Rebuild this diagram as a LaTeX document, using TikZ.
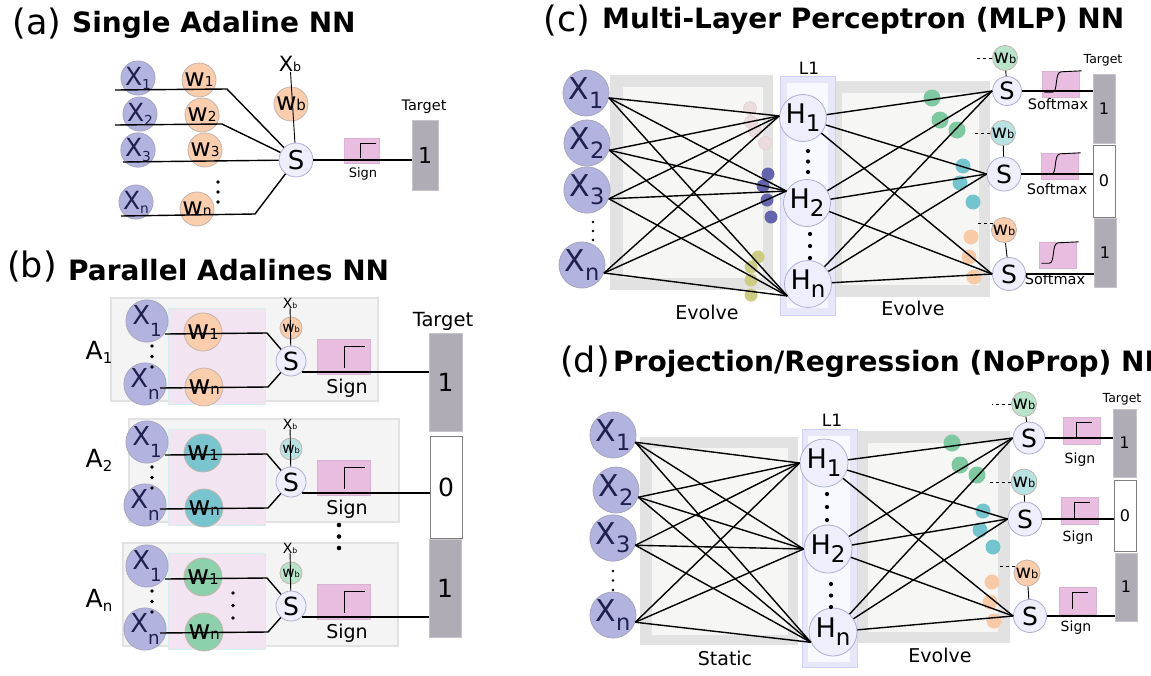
\documentclass[tikz,border=0pt]{standalone}
\usepackage{fontspec}
\setmainfont{DejaVu Sans}
\usetikzlibrary{calc}

% letter with a subscript: base, sub, scale, raise
\newcommand{\subl}[4]{#1\raisebox{#4}{\scalebox{#3}{#2}}}
% three dots in a column: x, y top, y bottom, radius
\newcommand{\dotcol}[4]{\foreach \dd in {0,1,2} \fill (#1,{(#2)+\dd*((#3)-(#2))/2}) circle (#4);}
% sign step inside a box: node, box height, x shift
\newcommand{\signfn}[3]{\draw[line width=1pt] ($(#1.center)+(#3,0.3*#2)$) -- ++(0,-0.6*#2) -- ++(0.6*#2,0);}
% sigmoid inside a box: node
\newcommand{\softfn}[1]{\draw[line width=0.9pt] ($(#1.south west)+(2,-5)$) -- ($(#1.south west)+(10,-5)$)
  .. controls ($(#1.south west)+(16,-5)$) and ($(#1.north west)+(12,1)$) .. ($(#1.north west)+(19,1)$)
  -- ($(#1.north east)+(2,0)$);}

\begin{document}
\begin{tikzpicture}[x=1pt, y=-1pt,
    fs/.style={font=\fontsize{#1}{#1}\selectfont, inner sep=0pt},
    wire/.style={line width=1.4pt},
    thinwire/.style={line width=0.9pt},
    outwire/.style={line width=1.8pt},
    xnode/.style={circle, fill=xFill, draw=xEdge, line width=0.8pt, text=xText, inner sep=0pt},
    wnode/.style={circle, draw=wEdge, line width=0.8pt, inner sep=0pt},
    snode/.style={circle, fill=sFill, draw=sEdge, line width=0.8pt, inner sep=0pt},
    actbox/.style={rectangle, fill=signFill, draw=signFill!85!gray, inner sep=0pt},
    tgtcell/.style={rectangle, fill=tgtGrey, draw=tgtGrey!70!white, line width=0.8pt, inner sep=0pt},
    tgtwhite/.style={rectangle, fill=white, draw=gray, line width=0.8pt, inner sep=0pt},
    plab/.style={fs=35},
    ptitle/.style={anchor=west, font=\bfseries\fontsize{28}{28}\selectfont, inner sep=0pt}]
    % Define colours
    \definecolor{xFill}{HTML}{B3B3E0}
    \definecolor{xEdge}{HTML}{A5A5BE}
    \definecolor{xText}{HTML}{20204E}
    \definecolor{wPeach}{HTML}{FACDAC}
    \definecolor{wEdge}{HTML}{C4B4AC}
    \definecolor{wTeal}{HTML}{78C5CF}
    \definecolor{wGreen}{HTML}{8DD0AC}
    \definecolor{wbTeal}{HTML}{B9E3E3}
    \definecolor{wbGreen}{HTML}{B8E4CB}
    \definecolor{sFill}{HTML}{EEEEFC}
    \definecolor{sEdge}{HTML}{AEAED2}
    \definecolor{signFill}{HTML}{E8BDE0}
    \definecolor{tgtGrey}{HTML}{AFACB5}
    \definecolor{blockFill}{HTML}{F4F4F4}
    \definecolor{blockEdge}{HTML}{E2E2E2}
    \definecolor{pinkBg}{HTML}{F2E4F0}
    \definecolor{frameOut}{HTML}{E2E2E2}
    \definecolor{frameIn}{HTML}{F6F6F4}
    \definecolor{layerOut}{HTML}{E7E7FA}
    \definecolor{layerIn}{HTML}{F6F9FD}
    \definecolor{dotPink}{HTML}{EDDCDE}
    \definecolor{dotNavy}{HTML}{6565AE}
    \definecolor{dotOlive}{HTML}{CDCD82}
    \definecolor{dotGreen}{HTML}{7FC9A2}
    \definecolor{dotTeal}{HTML}{72C4CD}
    \definecolor{dotPeach}{HTML}{F8CBA6}

    \useasboundingbox (0,0) rectangle (1151,675);

    % ---------- (a) Single Adaline NN ----------
    \node[plab] (alab) at (37,24) {(a)};
    \node[ptitle] (atitle) at (72,25) {Single Adaline NN};

    \foreach \n/\x/\y in {1/138/78, 2/140/114, 3/138/150, n/136/202}
        \node[xnode, fs=25, minimum size=34] (xa\n) at (\x,\y) {\subl{X}{\n}{.55}{-.3ex}};
    \foreach \n/\x/\y in {1/199/80, 2/202/115, 3/205/150, n/197/209}
        \node[wnode, fill=wPeach, fs=25, minimum size=34] (wa\n) at (\x,\y) {\subl{w}{\n}{.55}{0pt}};
    \dotcol{218}{182}{202}{1.9}

    \node[fs=21] (xba) at (290,64) {\subl{X}{b}{.6}{0pt}};
    \node[wnode, fill=wPeach, fs=25, minimum size=34] (wba) at (291,104) {\subl{w}{b}{.6}{0pt}};
    \node[snode, fs=26, minimum size=34] (sa) at (296,160) {S};

    % bent input wires
    \coordinate (a1s) at (115,90);  \coordinate (a1b) at (227,89);
    \coordinate (a2s) at (115,125); \coordinate (a2b) at (222,124);
    \coordinate (a3s) at (123,162);
    \coordinate (ans) at (121,216); \coordinate (anb) at (255,214);
    \draw[wire] (a1s) -- (a1b) -- (sa);
    \draw[wire] (a2s) -- (a2b) -- (sa);
    \draw[wire] (a3s) -- (sa);
    \draw[wire] (ans) -- (anb) -- (sa);
    \draw[thinwire] (xba) -- (sa);

    % activation and target
    \node[actbox, minimum width=35, minimum height=25] (sga) at (361.5,150.5) {};
    \signfn{sga}{25}{-1}
    \node[fs=13] (sgla) at (363,174) {Sign};
    \node[fs=14.5] (tgla) at (424,107) {Target};
    \node[tgtcell, minimum width=26, minimum height=70, fs=22] (tga) at (425,155) {1};
    \draw[outwire] (sa.east) -- (sa.east -| tga.west);

    % ---------- (b) Parallel Adalines NN ----------
    \node[plab] (blab) at (32,267) {(b)};
    \node[ptitle] (btitle) at (68,270) {Parallel Adalines NN};

    % target column
    \node[fs=19.5] (tglb) at (443,321) {Target};
    \node[tgtcell, minimum width=33, minimum height=98, fs=25] (tb1) at (445.5,382) {1};
    \node[tgtwhite, minimum width=32, minimum height=102, fs=25] (tb2) at (446,487) {0};
    \node[tgtcell, minimum width=32, minimum height=98, fs=25] (tbn) at (445,588) {1};

    % one block per adaline
    \foreach \k/\sy/\bl/\br/\ay/\wc/\wbc in {1/361/111/378/352/wPeach/wPeach,
                                           2/482/129/399/460/wTeal/wbTeal,
                                           n/606/123/398/600/wGreen/wbGreen}{
        \filldraw[fill=blockFill, draw=blockEdge, line width=1.2pt] (\bl,\sy-63) rectangle (\br,\sy+40);
        \filldraw[fill=pinkBg, draw=wbTeal!60!white, line width=0.8pt] (168,\sy-53) rectangle (265,\sy+43);
        \node[fs=25] (ab\k) at (99,\ay) {\subl{A}{\k}{.6}{-.3ex}};

        \node[xnode, fs=26, minimum size=36] (bx1\k) at (147,\sy-40) {\subl{X}{1}{.7}{-.8ex}};
        \node[xnode, fs=26, minimum size=36] (bxn\k) at (145,\sy+23) {\subl{X}{n}{.7}{-.8ex}};
        \dotcol{152}{\sy-15}{\sy+6}{1.9}
        \node[wnode, fill=\wc, fs=27, minimum size=38] (bw1\k) at (203,\sy-29) {\subl{w}{1}{.55}{0pt}};
        \node[wnode, fill=\wc, fs=27, minimum size=38] (bwn\k) at (204,\sy+26) {\subl{w}{n}{.55}{0pt}};

        \node[fs=14] (bxb\k) at (290,\sy-58) {\subl{X}{b}{.55}{0pt}};
        \node[wnode, fill=\wbc, fs=15, minimum size=22] (bwb\k) at (291,\sy-33) {\subl{w}{b}{.55}{0pt}};
        \node[snode, fs=25, minimum size=30] (bs\k) at (291,\sy) {S};

        \coordinate (bl1s\k) at (165,\sy-27); \coordinate (bl1b\k) at (267,\sy-28);
        \coordinate (blns\k) at (160,\sy+27); \coordinate (blnb\k) at (268,\sy+26);
        \draw[wire] (bl1s\k) -- (bl1b\k) -- (bs\k);
        \draw[wire] (blns\k) -- (blnb\k) -- (bs\k);
        \draw[thinwire] (bxb\k) -- (bs\k);

        \node[actbox, minimum width=53, minimum height=35] (bsg\k) at (344,\sy-4) {};
        \signfn{bsg\k}{35}{0}
        \node[fs=19] (bsl\k) at (347,\sy+27) {Sign};
        \draw[outwire] (bs\k.-45) -- (bs\k.-45 -| tb\k.west);
    }
    \dotcol{233}{593}{618}{1.9}
    \dotcol{339}{525}{548}{2.3}

    % ---------- (c) Multi-Layer Perceptron (MLP) NN ----------
    \node[plab] (clab) at (567,21) {(c)};
    \node[ptitle] (ctitle) at (602,21) {Multi-Layer Perceptron (MLP) NN};

    % background frames
    \fill[frameOut] (610,75) rectangle (773,290);
    \fill[frameIn] (623,87) rectangle (763,278);
    \fill[frameOut] (830,81) rectangle (990,297);
    \fill[frameIn] (842,93) rectangle (979,285);
    \filldraw[fill=layerOut, draw=layerOut!90!blue, line width=1pt] (780,76) rectangle (835,315);
    \fill[layerIn] (787,83) rectangle (828,308);

    % weight dots
    \foreach \x/\y in {750/108, 751/122, 755/131, 765/143}
        \filldraw[fill=dotPink, draw=dotPink!80!gray] (\x,\y) circle (6.5);
    \foreach \x/\y in {768/174, 763/186, 767/200, 771/217}
        \fill[dotNavy] (\x,\y) circle (6.5);
    \foreach \x/\y in {758/257, 751/267, 751/280, 751/295}
        \fill[dotOlive] (\x,\y) circle (6.5);
    \foreach \x/\y in {932/98, 940/120, 957/130}
        \fill[dotGreen] (\x,\y) circle (8.5);
    \foreach \x/\y in {963/166, 960/183, 973/202}
        \fill[dotTeal] (\x,\y) circle (7.5);
    \foreach \x/\y in {971/237, 969/257, 974/277}
        \fill[dotPeach] (\x,\y) circle (7.5);

    % input and hidden units
    \foreach \n/\x/\y in {1/586/93, 2/587/143, 3/587/190, n/582/265}
        \node[xnode, fs=30, minimum size=46] (xc\n) at (\x,\y) {\subl{X}{\n}{.75}{-.5ex}};
    \dotcol{593}{222}{240}{1.3}
    \foreach \n/\x/\y in {1/803/118, 2/807/203, n/808/284}
        \node[snode, fs=27, minimum size=47] (hc\n) at (\x,\y) {\subl{H}{\n}{.85}{-.55ex}};
    \dotcol{808}{151}{172}{2.1}
    \dotcol{810}{234}{258}{2.1}
    \node[fs=17] (l1c) at (809,68) {L1};

    % output units with bias
    \node[snode, fs=24, minimum size=29] (sc1) at (1007,91) {S};
    \node[snode, fs=25, minimum size=34] (sc2) at (1004,174) {S};
    \node[snode, fs=25, minimum size=33] (sc3) at (1009,274) {S};
    \node[wnode, fill=wbGreen, fs=19, minimum size=24] (wbc1) at (1005,58) {\subl{w}{b}{.6}{0pt}};
    \node[wnode, fill=wbTeal, fs=19, minimum size=25] (wbc2) at (1003,133) {\subl{w}{b}{.6}{0pt}};
    \node[wnode, fill=wPeach, fs=19, minimum size=25] (wbc3) at (1004,230) {\subl{w}{b}{.6}{0pt}};
    \foreach \j in {1,2,3} {
        \draw[thinwire] (wbc\j) -- (sc\j);
    }
    \draw[thinwire, dashed] (wbc1.west) -- ++(-17,0);
    \draw[thinwire, dashed] (wbc2.west) -- ++(-18,0);
    \draw[thinwire, dashed] (wbc3.150) -- ++(-15,0);

    % fully connected wires
    \foreach \i/\a in {1/-12, 2/-18, 3/-22, n/-20}
        \foreach \j/\b in {1/175, 2/150, n/210}
            \draw[wire] (xc\i.\a) -- (hc\j.\b);
    \foreach \i in {1,2,n}
        \foreach \j in {1,2,3}
            \draw[wire] (hc\i) -- (sc\j.west);

    % softmax and targets
    \foreach \j/\x/\y/\ly in {1/1061/84/104, 2/1060/166/189, 3/1058/255/279} {
        \node[actbox, minimum width=37, minimum height=26] (smc\j) at (\x,\y) {};
        \softfn{smc\j}
        \node[fs=14.5] (sml\j) at (\x-3,\ly) {Softmax};
    }
    \node[fs=12.5] (tglc) at (1103,60) {Target};
    \node[tgtcell, minimum width=22, minimum height=69, fs=16] (tc1) at (1104,108.5) {1};
    \node[tgtwhite, minimum width=22, minimum height=72, fs=16] (tc2) at (1104,181) {0};
    \node[tgtcell, minimum width=22, minimum height=69, fs=16] (tc3) at (1105,252.5) {1};
    \foreach \j in {1,2,3}
        \draw[wire] (sc\j.east) -- (sc\j.east -| tc\j.west);

    \node[fs=19] (evc1) at (707,312) {Evolve};
    \node[fs=19] (evc2) at (913,308) {Evolve};

    % ---------- (d) Projection/Regression (NoProp) NN ----------
    \node[plab] (dlab) at (585,362) {(d)};
    \node[ptitle] (dtitle) at (613,364) {Projection/Regression (NoProp) NN};

    % background frames
    \fill[frameOut] (640,437) rectangle (798,645);
    \fill[frameIn] (652,448) rectangle (788,635);
    \fill[frameOut] (858,431) rectangle (1010,643);
    \fill[frameIn] (868,443) rectangle (998,632);
    \filldraw[fill=layerOut, draw=layerOut!90!blue, line width=1pt] (802,429) rectangle (857,667);
    \fill[layerIn] (808,436) rectangle (850,662);

    % weight dots
    \foreach \x/\y in {952/443, 960/465, 977/475}
        \fill[dotGreen] (\x,\y) circle (8.5);
    \foreach \x/\y in {983/511, 980/530, 993/547}
        \fill[dotTeal] (\x,\y) circle (7.5);
    \foreach \x/\y in {992/582, 990/602, 994/621}
        \fill[dotPeach] (\x,\y) circle (7.5);

    % input and hidden units
    \foreach \n/\x/\y in {1/613/435, 2/616/490, 3/613/538, n/613/615}
        \node[xnode, fs=30, minimum size=46] (xd\n) at (\x,\y) {\subl{X}{\n}{.75}{-.5ex}};
    \dotcol{613}{571}{590}{1.3}
    \foreach \n/\x/\y in {1/824/463, 2/828/549, n/833/632}
        \node[snode, fs=27, minimum size=48] (hd\n) at (\x,\y) {\subl{H}{\n}{.85}{-.55ex}};
    \dotcol{827}{494}{520}{2.1}
    \dotcol{831}{584}{607}{2.1}
    \node[fs=17] (l1d) at (832,420) {L1};

    % output units with bias
    \node[snode, fs=25, minimum size=32] (sd1) at (1029,438) {S};
    \node[snode, fs=25, minimum size=34] (sd2) at (1025,519) {S};
    \node[snode, fs=25, minimum size=33] (sd3) at (1030,616) {S};
    \node[wnode, fill=wbGreen, fs=19, minimum size=24] (wbd1) at (1024,404) {\subl{w}{b}{.6}{0pt}};
    \node[wnode, fill=wbTeal, fs=19, minimum size=26] (wbd2) at (1024,482) {\subl{w}{b}{.6}{0pt}};
    \node[wnode, fill=wPeach, fs=19, minimum size=26] (wbd3) at (1027,573) {\subl{w}{b}{.6}{0pt}};
    \foreach \j in {1,2,3} {
        \draw[thinwire] (wbd\j) -- (sd\j);
    }
    \draw[thinwire, dashed] (wbd1.west) -- ++(-19,0);
    \draw[thinwire, dashed] (wbd2.west) -- ++(-21,0);
    \draw[thinwire, dashed] (wbd3.150) -- ++(-16,0);

    % fully connected wires
    \foreach \i in {1,2,3,n}
        \foreach \j/\b in {1/180, 2/180, n/205}
            \draw[wire] (xd\i.-18) -- (hd\j.\b);
    \foreach \i in {1,2,n}
        \foreach \j in {1,2,3}
            \draw[wire] (hd\i) -- (sd\j.west);

    % sign and targets
    \foreach \j/\x/\y/\ly in {1/1082/431/460, 2/1080/511/538, 3/1078/601/628} {
        \node[actbox, minimum width=37, minimum height=27] (sgd\j) at (\x,\y) {};
        \signfn{sgd\j}{27}{-6}
        \node[fs=14] (sgld\j) at (\x-2,\ly) {Sign};
    }
    \node[fs=12.5] (tgld) at (1122,399) {Target};
    \node[tgtcell, minimum width=23, minimum height=68, fs=16] (td1) at (1124.5,443) {1};
    \node[tgtwhite, minimum width=22, minimum height=71, fs=16] (td2) at (1125,515.5) {0};
    \node[tgtcell, minimum width=22, minimum height=68, fs=16] (td3) at (1126,587) {1};
    \foreach \j in {1,2,3}
        \draw[wire] (sd\j.east) -- (sd\j.east -| td\j.west);

    \node[fs=19] (std) at (725,658) {Static};
    \node[fs=19] (evd) at (940,655) {Evolve};

\end{tikzpicture}
\end{document}
